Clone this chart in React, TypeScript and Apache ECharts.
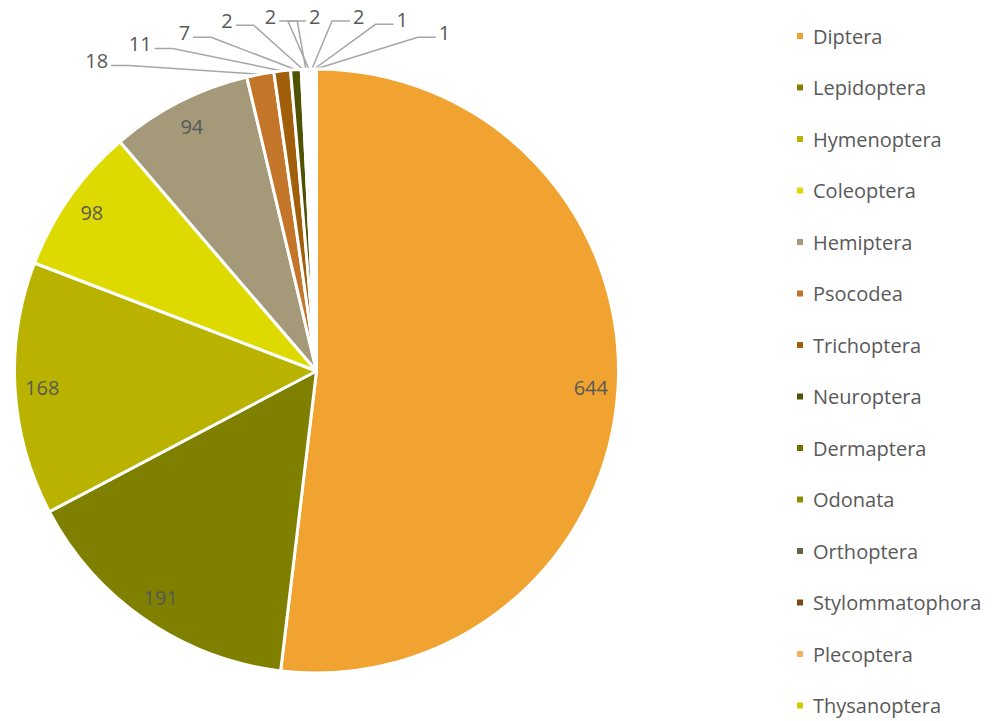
import React, { useEffect, useRef } from "react";
import * as echarts from "echarts";

const categories = [
  "Diptera", "Lepidoptera", "Hymenoptera", "Coleoptera", "Hemiptera", "Psocodea",
  "Trichoptera", "Neuroptera", "Dermaptera", "Odonata", "Orthoptera",
  "Stylommatophora", "Plecoptera", "Thysanoptera",
];
const counts = [644, 191, 168, 98, 94, 18, 11, 7, 2, 2, 2, 2, 1, 1];
const colors = [
  "#F0A330", "#7F7F00", "#B9B300", "#DEDA00", "#A49A79", "#C3762A",
  "#A15F0C", "#4F5103", "#6F6E00", "#8F8C00", "#69624A", "#7B4A1A",
  "#F5B25A", "#CFCB00",
];

const CX = 316.5;
const CY = 371;
const R = 302;
const INSIDE_MIN = 50; // values at or above this are labelled inside
const FAN_START = -35.3;
const FAN_STEP = 7;
const FAN_R = 362;
const FONT = "'Open Sans', 'Liberation Sans', sans-serif";
const TEXT = "#595959";

export default function App() {
  const ref = useRef<HTMLDivElement>(null);
  useEffect(() => {
    if (!ref.current) return;
    const chart = echarts.init(ref.current, undefined, { renderer: "svg" });
    const firstSmall = counts.findIndex((v) => v < INSIDE_MIN);
    const mainData = categories.map((name, i) => ({
      name,
      value: counts[i],
      itemStyle: { color: colors[i] },
      label: { show: counts[i] < INSIDE_MIN },
      labelLine: { show: counts[i] < INSIDE_MIN },
    }));
    const labelData = categories.map((name, i) => ({
      name,
      value: counts[i],
      label: { show: counts[i] >= INSIDE_MIN },
    }));
    chart.setOption({
      animation: false,
      textStyle: { fontFamily: FONT },
      legend: {
        orient: "vertical",
        left: 790,
        top: 21,
        height: 700,
        icon: "rect",
        itemWidth: 8,
        itemHeight: 8,
        itemGap: 31.5,
        data: categories,
        selectedMode: false,
        textStyle: {
          fontFamily: FONT,
          fontSize: 20,
          lineHeight: 20,
          color: TEXT,
          padding: [0, 0, 0, 4],
        },
      },
      series: [
        {
          type: "pie",
          center: [CX, CY],
          radius: [0, R],
          startAngle: 90,
          clockwise: true,
          avoidLabelOverlap: false,
          itemStyle: { borderColor: "#ffffff", borderWidth: 3 },
          label: {
            position: "outside",
            formatter: "{c}",
            fontFamily: FONT,
            fontSize: 20,
            color: TEXT,
          },
          labelLine: {
            show: true,
            length: 10,
            length2: 10,
            lineStyle: { color: "#A6A6A6", width: 1.5 },
          },
          labelLayout: (p: any) => {
            const k = p.dataIndex - firstSmall;
            if (firstSmall < 0 || k < 0) return {};
            const deg = FAN_START + k * FAN_STEP;
            const a = (deg * Math.PI) / 180;
            const r = FAN_R + Math.max(0, -deg - 20) * 1.2;
            const x = CX + r * Math.sin(a);
            const y = Math.max(16, CY - r * Math.cos(a));
            const w = p.labelRect ? p.labelRect.width : 12;
            const anchor = p.labelLinePoints ? p.labelLinePoints[0] : [CX, CY - R];
            const left = x < anchor[0];
            const sx = left ? x + w / 2 + 3 : x - w / 2 - 3;
            const bx = left ? sx + 18 : sx - 18;
            const ly = y + 5;
            return {
              x,
              y,
              align: "center",
              verticalAlign: "middle",
              labelLinePoints: [
                [anchor[0], anchor[1]],
                [bx, ly],
                [sx, ly],
              ],
            };
          },
          data: mainData,
        },
        {
          type: "pie",
          center: [CX, CY],
          radius: [R * 0.8, R],
          startAngle: 90,
          clockwise: true,
          silent: true,
          avoidLabelOverlap: false,
          itemStyle: { color: "rgba(0,0,0,0)", borderWidth: 0 },
          label: {
            position: "inside",
            formatter: "{c}",
            fontFamily: FONT,
            fontSize: 20,
            color: TEXT,
          },
          labelLine: { show: false },
          data: labelData,
        },
      ],
    });
    return () => chart.dispose();
  }, []);
  return (
    <div
      ref={ref}
      style={{ position: "fixed", left: 0, top: 0, width: 993, height: 721, background: "#ffffff" }}
    />
  );
}
